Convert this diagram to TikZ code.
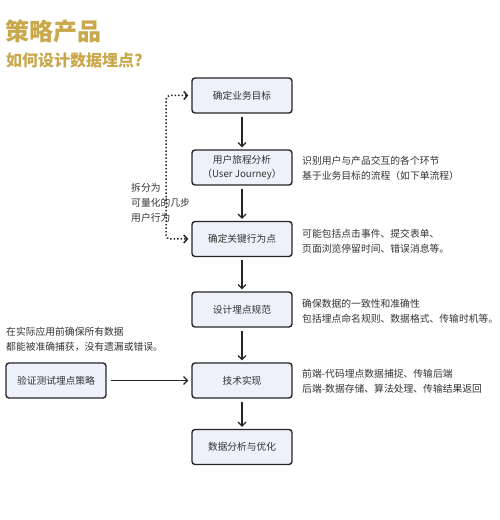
\documentclass[tikz,border=0pt]{standalone}
\usepackage{fontspec}
\setmainfont{Noto Sans CJK SC}
\usetikzlibrary{arrows.meta}
\definecolor{gold}{HTML}{C9A84C}
\definecolor{boxfill}{HTML}{EEF0FA}
\definecolor{txt}{HTML}{333333}
\tikzset{
  stepbox/.style={draw=black!85, line width=1.4pt, fill=boxfill, rounded corners=3pt,
    minimum width=100pt, minimum height=35pt, inner sep=0pt, align=center,
    font=\fontsize{9.7}{14}\selectfont, text=txt},
  note/.style={anchor=west, align=left, inner sep=0pt, font=\fontsize{9.8}{15}\selectfont, text=txt},
  flow/.style={-{Straight Barb[length=4pt,width=8pt]}, line width=1.1pt, black!85},
  dotflow/.style={{Straight Barb[length=3.5pt,width=8pt]}-{Straight Barb[length=3.5pt,width=8pt]}, line width=1.5pt, black!85, dash pattern=on 1.5pt off 2pt, rounded corners=4pt},
}
\begin{document}
\begin{tikzpicture}[x=1pt,y=1pt]
\useasboundingbox (0,0) rectangle (500,520);
\fill[white] (0,0) rectangle (500,520);
% titles
\node[anchor=west, inner sep=0pt, text=gold, font=\fontsize{24}{28}\selectfont\bfseries] (t1) at (5,489) {策略产品};
\node[anchor=west, inner sep=0pt, text=gold, font=\fontsize{16}{20}\selectfont\bfseries] (t2) at (6,460) {如何设计数据埋点?};
% boxes
\node[stepbox] (b1) at (242,424.5) {确定业务目标};
\node[stepbox] (b2) at (242,352.5) {用户旅程分析\\（User Journey）};
\node[stepbox] (b3) at (242,281) {确定关键行为点};
\node[stepbox] (b4) at (242,210.5) {设计埋点规范};
\node[stepbox] (b5) at (242,139.5) {技术实现};
\node[stepbox] (b6) at (242,73) {数据分析与优化};
\node[stepbox] (b0) at (56,139.5) {验证测试埋点策略};
% arrows
\draw[flow] ([yshift=-3pt]b1.south) -- ([yshift=2pt]b2.north);
\draw[flow] ([yshift=-3pt]b2.south) -- ([yshift=2pt]b3.north);
\draw[flow] ([yshift=-3pt]b3.south) -- ([yshift=2pt]b4.north);
\draw[flow] ([yshift=-3pt]b4.south) -- ([yshift=2pt]b5.north);
\draw[flow] ([yshift=-3pt]b5.south) -- ([yshift=2pt]b6.north);
\draw[flow] ([xshift=4pt]b0.east) -- ([xshift=-3pt]b5.west);
\coordinate (dl) at (166,352);
\draw[dotflow] ([xshift=-3pt]b1.west) -| (dl) |- ([xshift=-3pt]b3.west);
% notes
\node[note] (n0) at (131,317) {拆分为\\可量化的几步\\用户行为};
\node[note] (n2) at (302,351.5) {识别用户与产品交互的各个环节\\基于业务目标的流程（如下单流程）};
\node[note] (n3) at (302,279) {可能包括点击事件、提交表单、\\页面浏览停留时间、错误消息等。};
\node[note] (n4) at (302,208.5) {确保数据的一致性和准确性\\包括埋点命名规则、数据格式、传输时机等。};
\node[note] (n5) at (302,138.5) {前端-代码埋点数据捕捉、传输后端\\后端-数据存储、算法处理、传输结果返回};
\node[note] (n1) at (6,180.5) {在实际应用前确保所有数据\\都能被准确捕获，没有遗漏或错误。};
\end{tikzpicture}
\end{document}
